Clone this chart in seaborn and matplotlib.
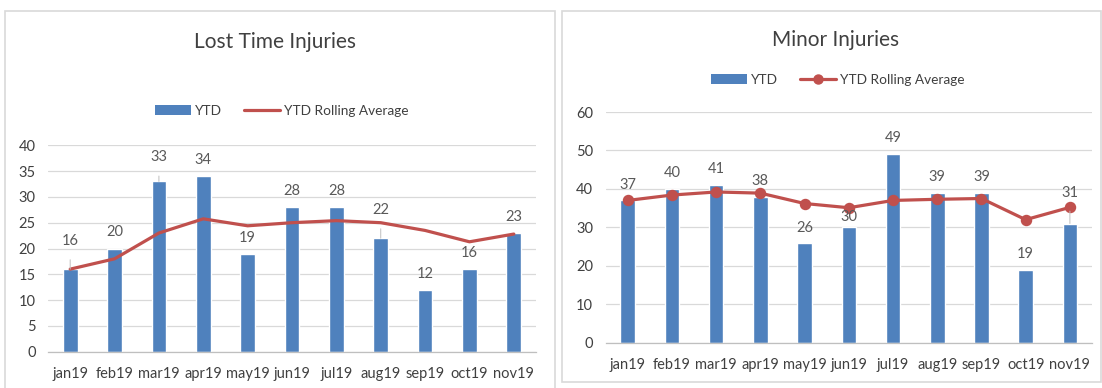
import matplotlib
matplotlib.use("Agg")
import matplotlib.pyplot as plt
import seaborn as sns
import pandas as pd
from matplotlib.patches import Patch, Rectangle
from matplotlib.lines import Line2D
from matplotlib.ticker import FixedLocator

# ---- data ----
months = ["jan19", "feb19", "mar19", "apr19", "may19", "jun19",
          "jul19", "aug19", "sep19", "oct19", "nov19"]

lost_time_ytd = [16, 20, 33, 34, 19, 28, 28, 22, 12, 16, 23]
lost_time_avg = [16.0, 18.0, 23.0, 25.75, 24.4, 25.0, 25.4, 25.0, 23.5, 21.3, 22.8]

minor_ytd = [37, 40, 41, 38, 26, 30, 49, 39, 39, 19, 31]
minor_avg = [37.0, 38.4, 39.2, 38.9, 36.2, 35.1, 37.0, 37.3, 37.5, 32.0, 35.2]

lost_time_yticks = [0, 5, 10, 15, 20, 25, 30, 35, 40]
minor_yticks = [0, 10, 20, 30, 40, 50, 60]

# ---- styling ----
BLUE = "#4F81BD"
RED = "#C0504D"
TEXT = "#595959"
DARK = "#404040"
GRID = "#D9D9D9"
AXIS = "#BFBFBF"

sns.set_theme(style="white")
plt.rcParams["font.family"] = ["Lato", "DejaVu Sans"]
plt.rcParams["text.color"] = TEXT

W, H = 1102, 388
fig = plt.figure(figsize=(W / 100, H / 100), dpi=100)
fig.patch.set_facecolor("white")


def px_rect(x0, y_top, x1, y_bottom):
    """Convert a pixel box (origin at top-left) into figure fractions."""
    return [x0 / W, (H - y_bottom) / H, (x1 - x0) / W, (y_bottom - y_top) / H]


def draw_panel(box, ax_box, title, title_xy, legend_xy, ytd, avg, yticks,
               offsets, leaders, with_markers):
    # outer chart frame
    x0, y0, x1, y1 = box
    fig.patches.append(Rectangle((x0 / W, (H - y1) / H), (x1 - x0) / W, (y1 - y0) / H,
                                 transform=fig.transFigure, fill=False,
                                 edgecolor=GRID, linewidth=1.2))
    ax = fig.add_axes(px_rect(*ax_box))
    df = pd.DataFrame({"month": months, "ytd": ytd, "avg": avg})

    sns.barplot(data=df, x="month", y="ytd", color=BLUE, saturation=1,
                width=0.33, ax=ax, zorder=2)
    sns.pointplot(data=df, x="month", y="avg", color=RED,
                  markers="o" if with_markers else "",
                  linewidth=2.3, markersize=6.5 if with_markers else 0,
                  ax=ax, zorder=3)

    ax.set_ylim(yticks[0], yticks[-1])
    ax.set_xlim(-0.5, len(months) - 0.5)
    ax.set_yticks(yticks)
    ax.set_xlabel("")
    ax.set_ylabel("")
    ax.yaxis.grid(True, color=GRID, linewidth=0.9, zorder=0)
    ax.set_axisbelow(True)
    for side in ("top", "right", "left"):
        ax.spines[side].set_visible(False)
    ax.spines["bottom"].set_color(AXIS)
    ax.spines["bottom"].set_linewidth(0.9)
    ax.tick_params(axis="y", length=0, labelsize=10.5, labelcolor=DARK, pad=9)
    ax.tick_params(axis="x", which="major", length=0, labelsize=10.5,
                   labelcolor=DARK, pad=11)
    ax.xaxis.set_minor_locator(FixedLocator([i - 0.5 for i in range(len(months) + 1)]))
    ax.tick_params(axis="x", which="minor", length=5, color=AXIS, width=0.9)

    # value labels above the bars
    for i, v in enumerate(ytd):
        kw = {}
        if i in leaders:
            kw["arrowprops"] = dict(arrowstyle="-", color="#BFBFBF", lw=0.7,
                                    shrinkA=6, shrinkB=0)
        ax.annotate(str(v), xy=(i, v), xytext=(0, offsets[i]),
                    textcoords="offset pixels", ha="center", va="center",
                    fontsize=10.5, color=TEXT, zorder=4, **kw)

    fig.text(title_xy[0] / W, 1 - title_xy[1] / H, title, ha="center",
             va="center", fontsize=15, color=DARK)

    handles = [Patch(facecolor=BLUE, edgecolor="none"),
               Line2D([], [], color=RED, linewidth=2.3,
                      marker="o" if with_markers else None, markersize=6.5)]
    fig.legend(handles, ["YTD", "YTD Rolling Average"], ncol=2, frameon=False,
               loc="center", bbox_to_anchor=(legend_xy[0] / W, 1 - legend_xy[1] / H),
               fontsize=9.8, handlelength=2.6, handleheight=0.7,
               handletextpad=0.35, columnspacing=1.6, labelcolor=DARK)
    return ax


draw_panel(box=(5, 11, 555, 392), ax_box=(48, 145.3, 536, 351.7),
           title="Lost Time Injuries", title_xy=(275, 42), legend_xy=(282, 111),
           ytd=lost_time_ytd, avg=lost_time_avg, yticks=lost_time_yticks,
           offsets=[28, 16, 24, 16, 16, 16, 16, 28, 16, 16, 16],
           leaders={0, 2, 7}, with_markers=False)

draw_panel(box=(562, 11, 1101, 382), ax_box=(605.6, 112, 1092, 342.7),
           title="Minor Injuries", title_xy=(836, 40), legend_xy=(838, 79.5),
           ytd=minor_ytd, avg=minor_avg, yticks=minor_yticks,
           offsets=[15, 16, 16, 16, 15, 10, 16, 16, 16, 16, 31],
           leaders={10}, with_markers=True)

fig.savefig("out.png", dpi=100, facecolor="white")
